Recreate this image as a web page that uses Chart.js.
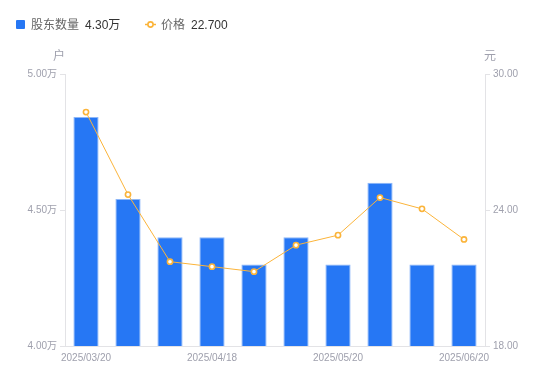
<!DOCTYPE html>
<html><head><meta charset="utf-8">
<script src="https://cdn.jsdelivr.net/npm/chart.js@4"></script>
<style>
html,body{margin:0;padding:0;background:#fff;}
#wrap{position:relative;width:550px;height:381px;}
#legend{position:absolute;left:0;top:0;width:550px;height:50px;font-family:"Liberation Sans","Noto Sans CJK SC",sans-serif;font-size:12px;}
.item{position:absolute;top:17px;height:16px;line-height:16px;white-space:nowrap;}
.name{color:#666;}
.val{color:#333;margin-left:6px;}
</style></head>
<body>
<div id="wrap">
<canvas id="c" width="550" height="381"></canvas>
<div id="legend">
  <div class="item" style="left:16px;"><span style="display:inline-block;width:9px;height:9px;background:#2677f4;border-radius:1px;vertical-align:-0px;margin-right:6px;"></span><span class="name" id="n0"></span><span class="val" id="v0"></span></div>
  <div class="item" style="left:145px;"><svg width="11" height="9" style="vertical-align:0px;margin-right:5px;"><line x1="0" y1="4.5" x2="11" y2="4.5" stroke="#fbb43a" stroke-width="1.5"/><circle cx="5.5" cy="4.5" r="2.6" fill="#fff" stroke="#fbb43a" stroke-width="1.6"/></svg><span class="name" id="n1"></span><span class="val" id="v1"></span></div>
</div>
</div>
<script>
const categories = ["2025/03/20","2025/03/31","2025/04/10","2025/04/18","2025/04/30","2025/05/09","2025/05/20","2025/05/30","2025/06/10","2025/06/20"];
const holders = [4.842, 4.54, 4.40, 4.40, 4.30, 4.40, 4.30, 4.60, 4.30, 4.30]; // 万户
const prices = [28.32, 24.68, 21.72, 21.50, 21.28, 22.45, 22.89, 24.55, 24.05, 22.70];
const seriesNames = ["股东数量", "价格"];
const leftTicks = [4.0, 4.5, 5.0];
const rightTicks = [18, 24, 30];
const axisTitles = ["户", "元"];

document.getElementById('n0').textContent = seriesNames[0];
document.getElementById('v0').textContent = holders[holders.length-1].toFixed(2) + '万';
document.getElementById('n1').textContent = seriesNames[1];
document.getElementById('v1').textContent = prices[prices.length-1].toFixed(3);

const FONT = "'Liberation Sans','Noto Sans CJK SC',sans-serif";
const TICK_COLOR = '#9fa0ad';
const AXIS_COLOR = '#e3e3e6';

const titlePlugin = {
  id: 'axisTitles',
  afterDraw(chart) {
    const ctx = chart.ctx;
    const a = chart.chartArea;
    ctx.save();
    ctx.font = "12px " + FONT;
    ctx.fillStyle = TICK_COLOR;
    ctx.textAlign = 'center';
    ctx.textBaseline = 'middle';
    ctx.fillText(axisTitles[0], a.left - 6, a.top - 17);
    ctx.fillText(axisTitles[1], a.right + 5, a.top - 17);
    ctx.restore();
  }
};

new Chart(document.getElementById('c'), {
  data: {
    labels: categories,
    datasets: [
      {
        type: 'line', label: seriesNames[1], data: prices, yAxisID: 'y1',
        borderColor: '#fbb43a', borderWidth: 1, backgroundColor: '#fff',
        pointRadius: 2.6, pointBorderWidth: 1.6, pointBackgroundColor: '#fff', pointBorderColor: '#fbb43a',
        tension: 0, order: 0
      },
      {
        type: 'bar', label: seriesNames[0], data: holders, yAxisID: 'y',
        backgroundColor: '#2677f4', borderColor: '#8db7f8', borderWidth: 1,
        categoryPercentage: 1, barPercentage: 0.6, order: 1
      }
    ]
  },
  options: {
    responsive: false, animation: false,
    plugins: { legend: { display: false }, tooltip: { enabled: false } },
    layout: { padding: { top: 74, left: 0, right: 0, bottom: 0 } },
    scales: {
      x: {
        grid: { display: false, drawTicks: false },
        border: { display: true, color: AXIS_COLOR, width: 1 },
        ticks: {
          color: TICK_COLOR, font: { size: 10, family: FONT }, padding: 6,
          maxRotation: 0, autoSkip: false,
          callback: (v, i) => (i % 3 === 0 ? categories[i] : '')
        },
        afterFit(s) { s.height = 35; }
      },
      y: {
        position: 'left', min: leftTicks[0], max: leftTicks[leftTicks.length-1],
        afterBuildTicks(s) { s.ticks = leftTicks.map(v => ({ value: v })); },
        grid: { drawOnChartArea: false, tickLength: 5, color: AXIS_COLOR },
        border: { display: true, color: AXIS_COLOR, width: 1 },
        ticks: { color: TICK_COLOR, font: { size: 10, family: FONT }, padding: 3,
          callback: v => v.toFixed(2) + '万' },
        afterFit(s) { s.width = 65; }
      },
      y1: {
        position: 'right', min: rightTicks[0], max: rightTicks[rightTicks.length-1],
        afterBuildTicks(s) { s.ticks = rightTicks.map(v => ({ value: v })); },
        grid: { drawOnChartArea: false, tickLength: 5, color: AXIS_COLOR },
        border: { display: true, color: AXIS_COLOR, width: 1 },
        ticks: { color: TICK_COLOR, font: { size: 10, family: FONT }, padding: 3,
          callback: v => v.toFixed(2) },
        afterFit(s) { s.width = 65; }
      }
    }
  },
  plugins: [titlePlugin]
});
</script>
</body></html>
